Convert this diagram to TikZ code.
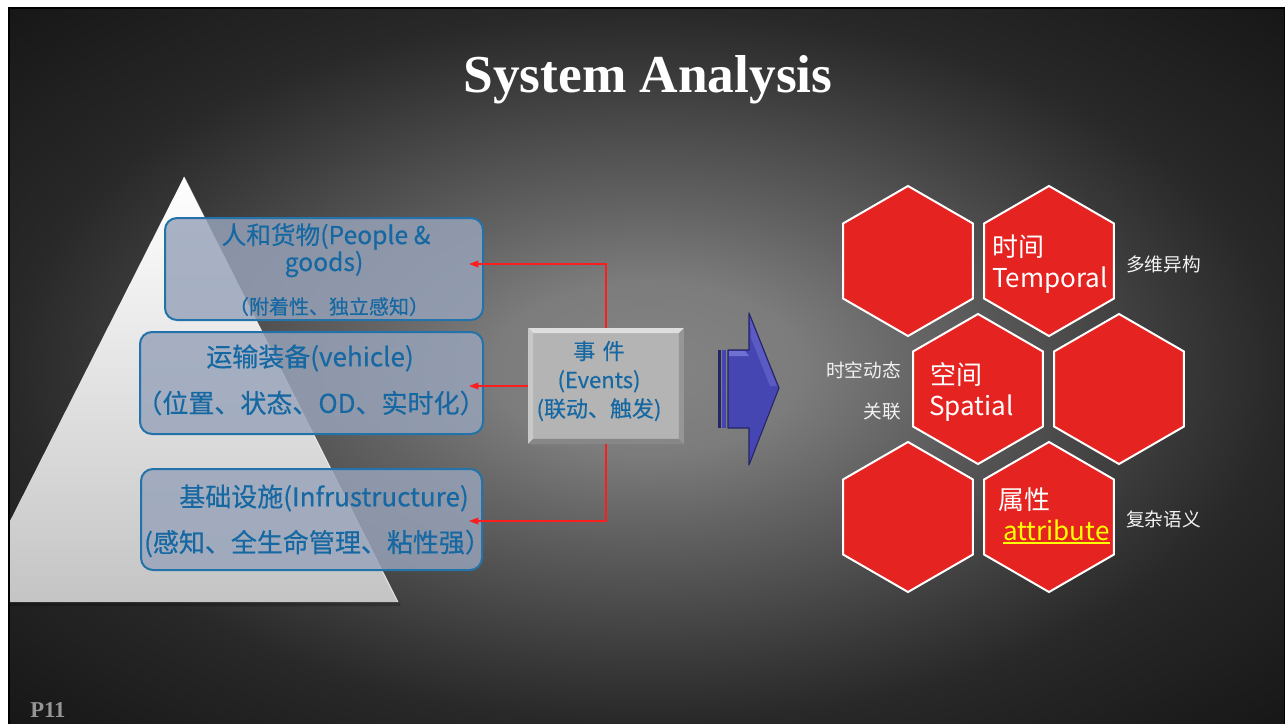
\documentclass[tikz,border=0pt]{standalone}
\usepackage{fontspec}
\setmainfont{Noto Sans CJK SC}
\newfontfamily\cjkm[FakeBold=0.45]{Noto Sans CJK SC}
\newfontfamily\tnr{Liberation Serif}
\usetikzlibrary{arrows.meta,shapes.geometric,shadows,calc}
\definecolor{bg0}{RGB}{132,132,132}
\definecolor{bg1}{RGB}{124,124,124}
\definecolor{bg2}{RGB}{100,100,100}
\definecolor{bg3}{RGB}{78,78,78}
\definecolor{bg4}{RGB}{56,56,56}
\definecolor{bg5}{RGB}{40,40,40}
\definecolor{bg6}{RGB}{22,22,22}
\definecolor{hexred}{RGB}{229,36,33}
\definecolor{boxfill}{RGB}{152,164,186}
\definecolor{boxline}{RGB}{35,115,170}
\definecolor{boxtext}{RGB}{22,104,162}
\definecolor{evfill}{RGB}{180,180,180}
\definecolor{evtop}{RGB}{222,222,222}
\definecolor{evleft}{RGB}{200,200,200}
\definecolor{evright}{RGB}{150,150,150}
\definecolor{evbot}{RGB}{135,135,135}
\definecolor{redln}{RGB}{250,30,30}
\definecolor{arrblue}{RGB}{70,70,178}
\definecolor{arrdark}{RGB}{36,36,104}
\definecolor{arrlight}{RGB}{112,112,212}
\definecolor{pyrbot}{RGB}{196,196,196}
\definecolor{labwhite}{RGB}{242,242,242}
\definecolor{attryellow}{RGB}{255,255,0}
\pgfdeclareradialshading{bgshade}{\pgfpoint{0bp}{0bp}}{color(0bp)=(bg0); color(12bp)=(bg1); color(22bp)=(bg2); color(32bp)=(bg3); color(42bp)=(bg4); color(50bp)=(bg5); color(72bp)=(bg6)}
\begin{document}
\begin{tikzpicture}[x=0.75pt,y=-0.75pt,
  hexa/.style={regular polygon, regular polygon sides=6, shape border rotate=30,
    minimum size=150*0.75pt, inner sep=0pt, fill=hexred, draw=white, line width=1.5pt},
  pbox/.style={rounded corners=9pt, fill=boxfill, fill opacity=0.83, draw=boxline,
    draw opacity=1, line width=1.5pt, inner sep=0pt},
  btxt/.style={text=boxtext, inner sep=0pt, font=\cjkm\fontsize{19.5}{23}\selectfont},
  htxt/.style={text=white, inner sep=0pt, font=\fontsize{19.5}{23}\selectfont},
  sidelab/.style={text=labwhite, inner sep=0pt, font=\fontsize{14}{17}\selectfont},
  redline/.style={draw=redln, line width=0.9pt, -{Triangle[length=7pt,width=5pt]}},
  evbox/.style={fill=evfill, minimum width=155*0.75pt, minimum height=115*0.75pt,
    inner sep=0pt, drop shadow={shadow xshift=1.5pt, shadow yshift=-1.5pt, opacity=0.45}}
]
\useasboundingbox (0,0) rectangle (1285,724);
% background frame
\fill[white] (0,0) rectangle (1285,724);
\fill[black] (8,7) rectangle (1285,724);
\begin{scope}
\clip (10,10) rectangle (1284,724);
\begin{scope}[shift={(647,367)}, xscale=9.52, yscale=5.34]
\node[inner sep=0pt, transform shape] (bgs) at (0,0) {\pgfuseshading{bgshade}};
\end{scope}
\end{scope}

% pyramid
\begin{scope}
\clip (10,10) rectangle (1284,724);
\fill[black, opacity=0.2] (186,181) -- (401,606) -- (-34,606) -- cycle;
\shade[top color=white, bottom color=pyrbot] (184,177) -- (398,602) -- (-31,602) -- cycle;
\draw[white, opacity=0.7, line width=0.8pt] (184,177) -- (398,602);
\end{scope}

% boxes
\node[pbox, minimum width=318*0.75pt, minimum height=102*0.75pt] (b1) at (324,269) {};
\node[pbox, minimum width=343*0.75pt, minimum height=102*0.75pt] (b2) at (311.5,383) {};
\node[pbox, minimum width=341*0.75pt, minimum height=101*0.75pt] (b3) at (311.5,519.5) {};

\node[btxt, font=\cjkm\fontsize{18.5}{22}\selectfont] (b1a) at (326,236.5) {人和货物(People \&};
\node[btxt, font=\cjkm\fontsize{18.5}{22}\selectfont, anchor=base] (b1b) at (324,271) {goods)};
\node[btxt, font=\cjkm\fontsize{15}{18}\selectfont] (b1c) at (329,306.5) {（附着性、独立感知）};
\node[btxt] (b2a) at (310,358) {运输装备(vehicle)};
\node[btxt] (b2b) at (311,403) {（位置、状态、OD、实时化）};
\node[btxt] (b3a) at (324,498) {基础设施(Infrustructure)};
\node[btxt] (b3b) at (317.5,543.5) {(感知、全生命管理、粘性强）};

% events box
\node[evbox] (ev) at (606,386) {};
\fill[evtop] (ev.north west) -- (ev.north east) -- ($(ev.north east)+(-5,5)$) -- ($(ev.north west)+(5,5)$) -- cycle;
\fill[evleft] (ev.north west) -- ($(ev.north west)+(5,5)$) -- ($(ev.south west)+(5,-5)$) -- (ev.south west) -- cycle;
\fill[evright] (ev.north east) -- ($(ev.north east)+(-5,5)$) -- ($(ev.south east)+(-5,-5)$) -- (ev.south east) -- cycle;
\fill[evbot] (ev.south west) -- ($(ev.south west)+(5,-5)$) -- ($(ev.south east)+(-5,-5)$) -- (ev.south east) -- cycle;
\node[text=boxtext, inner sep=0pt, align=center, font=\cjkm\fontsize{16.5}{21.6}\selectfont] (evt) at (599,381) {事\,\,件\\(Events)\\(联动、触发)};

% red connectors
\coordinate (t1) at (469,264);
\coordinate (t2) at (469,386);
\coordinate (t3) at (469,521);
\draw[redline] (ev.north) |- (t1);
\draw[redline] (ev.west) -- (t2);
\draw[redline] (ev.south) |- (t3);

% big blue arrow
\fill[arrdark] (718,350) rectangle (721,428);
\fill[arrblue] (722,350) rectangle (726,428);
\fill[arrblue, draw=arrdark, line width=0.8pt, line join=round]
  (728,350) -- (749,350) -- (749,313) -- (779,388) -- (749,465) -- (749,428) -- (728,428) -- cycle;
\fill[arrlight] (729,351) -- (745,351) -- (749,356) -- (729,356) -- cycle;
\fill[arrlight, opacity=0.5] (750,318) -- (777,386) -- (770,386) -- (751,338) -- cycle;

% hexagons
\node[hexa] (h1) at (908,261) {};
\node[hexa] (h2) at (1049,261) {};
\node[hexa] (h3) at (978,389) {};
\node[hexa] (h4) at (1119,389) {};
\node[hexa] (h5) at (908,517) {};
\node[hexa] (h6) at (1049,517) {};

\node[htxt, anchor=west] (h2a) at (992.5,246.5) {时间};
\node[htxt, anchor=base west] (h2b) at (992,287) {Temporal};
\node[htxt, anchor=west] (h3a) at (930,375) {空间};
\node[htxt, anchor=base west] (h3b) at (929,415) {Spatial};
\node[htxt, anchor=west] (h6a) at (998,500) {属性};
\node[htxt, anchor=base west, text=attryellow] (h6b) at (1003,540) {attribute};
\draw[attryellow, line width=1.1pt] ([yshift=-2.2pt]h6b.base west) -- ([yshift=-2.2pt]h6b.base east);

% side labels
\node[sidelab, anchor=west] (s1) at (1126,264) {多维异构};
\node[sidelab, anchor=east] (s2) at (901,370) {时空动态};
\node[sidelab, anchor=east] (s3) at (901,411.5) {关联};
\node[sidelab, anchor=west] (s4) at (1126,519) {复杂语义};

% title and page number
\node[text=white, inner sep=0pt, anchor=base, font=\tnr\bfseries\fontsize{40}{48}\selectfont] (title) at (648,93) {System Analysis};
\node[text={rgb,255:red,150;green,150;blue,150}, inner sep=0pt, anchor=base west, font=\tnr\bfseries\fontsize{17}{20}\selectfont] (pg) at (30,717) {P11};
\end{tikzpicture}
\end{document}
